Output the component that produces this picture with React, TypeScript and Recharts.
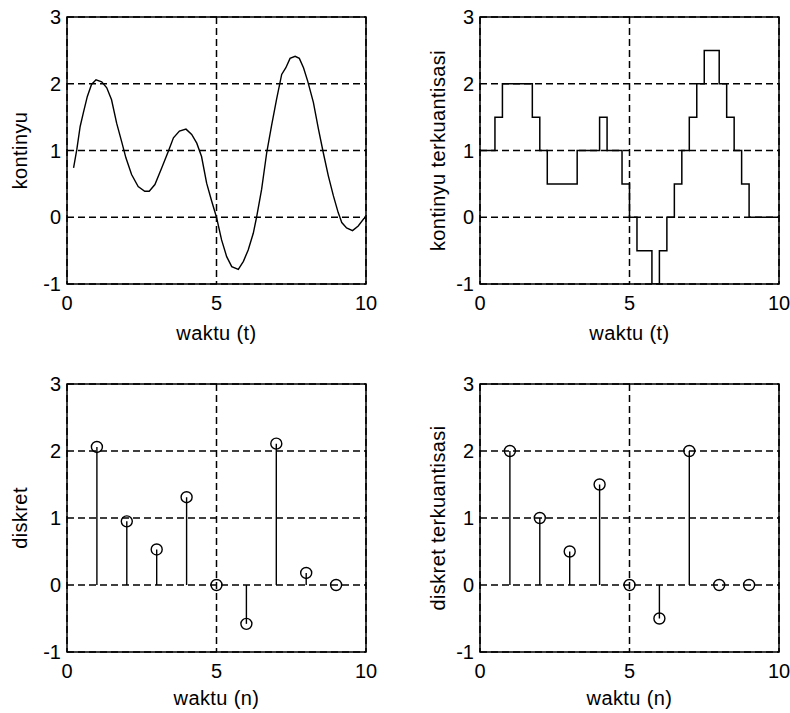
import React from "react";
import {
  ComposedChart,
  Line,
  Scatter,
  ErrorBar,
  XAxis,
  YAxis,
  CartesianGrid,
  ReferenceArea,
} from "recharts";

// continuous signal
const kontinyuT = [
  0.22, 0.33, 0.44, 0.55, 0.68, 0.82, 0.97, 1.16, 1.33, 1.49, 1.66, 1.83, 1.97,
  2.16, 2.38, 2.6, 2.75, 2.94, 3.17, 3.39, 3.56, 3.76, 3.98, 4.17, 4.34, 4.5,
  4.67, 4.84, 5.0, 5.17, 5.34, 5.51, 5.73, 5.9, 6.06, 6.23, 6.34, 6.51, 6.68,
  6.84, 7.01, 7.18, 7.32, 7.46, 7.63, 7.77, 7.91, 8.05, 8.24, 8.41, 8.57, 8.74,
  8.91, 9.07, 9.19, 9.35, 9.55, 9.74, 9.93, 10,
];
const kontinyuY = [
  0.74, 1.02, 1.36, 1.57, 1.81, 1.99, 2.06, 2.03, 1.94, 1.76, 1.41, 1.13, 0.89,
  0.64, 0.46, 0.39, 0.39, 0.49, 0.74, 0.99, 1.19, 1.29, 1.32, 1.24, 1.11, 0.91,
  0.51, 0.24, 0.0, -0.34, -0.59, -0.74, -0.78, -0.66, -0.49, -0.24, 0.0, 0.42,
  0.97, 1.37, 1.77, 2.14, 2.24, 2.38, 2.41, 2.38, 2.24, 2.04, 1.72, 1.32, 0.97,
  0.62, 0.32, 0.07, -0.08, -0.16, -0.2, -0.13, -0.02, 0,
];

// quantized (step 0.5) staircase
const stairT = [
  0, 0.25, 0.5, 0.75, 1, 1.25, 1.5, 1.75, 2, 2.25, 2.5, 2.75, 3, 3.25, 3.5,
  3.75, 4, 4.25, 4.5, 4.75, 5, 5.25, 5.5, 5.75, 6, 6.25, 6.5, 6.75, 7, 7.25,
  7.5, 7.75, 8, 8.25, 8.5, 8.75, 9, 9.25, 9.5, 9.75, 10,
];
const stairY = [
  1, 1, 1.5, 2, 2, 2, 2, 1.5, 1, 0.5, 0.5, 0.5, 0.5, 1, 1, 1, 1.5, 1, 1, 0.5,
  0, -0.5, -0.5, -1, -0.5, 0, 0.5, 1, 1.5, 2, 2.5, 2.5, 2, 1.5, 1, 0.5, 0, 0, 0,
  0, 0,
];

const waktuN = [1, 2, 3, 4, 5, 6, 7, 8, 9];
const diskretY = [2.06, 0.95, 0.53, 1.31, 0, -0.58, 2.11, 0.18, 0];
const diskretQ = [2, 1, 0.5, 1.5, 0, -0.5, 2, 0, 0];

const xTicks = [0, 5, 10];
const yTicks = [-1, 0, 1, 2, 3];

const FONT = '"Liberation Sans", Arial, Helvetica, sans-serif';

// stem from 0 to value, drawn as an asymmetric error bar
const stem = (v: number) => (v >= 0 ? [v, 0] : [0, -v]);

const kontinyuData = kontinyuT.map((t, i) => ({ t, y: kontinyuY[i] }));
const stairData = stairT.map((t, i) => ({ t, y: stairY[i] }));
const diskretData = waktuN.map((t, i) => ({ t, y: diskretY[i], err: stem(diskretY[i]) }));
const diskretQData = waktuN.map((t, i) => ({ t, y: diskretQ[i], err: stem(diskretQ[i]) }));

const tickStyle = { fontSize: 20, fill: "#000", fontFamily: FONT };

const Ring = (p: any) => (
  <circle cx={p.cx} cy={p.cy} r={5.5} fill="none" stroke="#000" strokeWidth={1.4} />
);

function Panel({ left, top, width, height, margin, data, children }: any) {
  return (
    <div style={{ position: "absolute", left, top }}>
      <ComposedChart width={width} height={height} data={data} margin={margin}>
        <CartesianGrid stroke="#000" strokeDasharray="7 4" strokeWidth={1.5} />
        <XAxis
          type="number"
          dataKey="t"
          domain={[0, 10]}
          ticks={xTicks}
          allowDataOverflow
          axisLine={false}
          tickLine={false}
          tickSize={0}
          tickMargin={12}
          height={40}
          tick={tickStyle}
        />
        <YAxis
          type="number"
          domain={[-1, 3]}
          ticks={yTicks}
          allowDataOverflow
          axisLine={false}
          tickLine={false}
          tickSize={0}
          tickMargin={6}
          width={50}
          tick={tickStyle}
        />
        <ReferenceArea x1={0} x2={10} y1={-1} y2={3} fill="none" stroke="#000" strokeWidth={1.5} />
        {children}
      </ComposedChart>
    </div>
  );
}

export default function App() {
  const label = { fontSize: 20, fontFamily: FONT, fill: "#000", letterSpacing: 0.4 };
  return (
    <div
      style={{
        position: "absolute",
        left: 0,
        top: 0,
        width: 790,
        height: 713,
        background: "#fff",
        overflow: "hidden",
      }}
    >
      <Panel left={0} top={0} width={390} height={350} margin={{ top: 17, right: 24, bottom: 26, left: 17 }} data={kontinyuData}>
        <Line type="linear" dataKey="y" stroke="#000" strokeWidth={1.4} dot={false} isAnimationActive={false} />
      </Panel>
      <Panel left={390} top={0} width={400} height={350} margin={{ top: 17, right: 11, bottom: 26, left: 40 }} data={stairData}>
        <Line type="stepAfter" dataKey="y" stroke="#000" strokeWidth={1.5} dot={false} isAnimationActive={false} />
      </Panel>
      <Panel left={0} top={360} width={390} height={353} margin={{ top: 24, right: 24, bottom: 21, left: 17 }} data={diskretData}>
        <Scatter dataKey="y" shape={Ring} isAnimationActive={false}>
          <ErrorBar dataKey="err" direction="y" width={0} stroke="#000" strokeWidth={1.4} isAnimationActive={false} />
        </Scatter>
      </Panel>
      <Panel left={390} top={360} width={400} height={353} margin={{ top: 24, right: 11, bottom: 21, left: 40 }} data={diskretQData}>
        <Scatter dataKey="y" shape={Ring} isAnimationActive={false}>
          <ErrorBar dataKey="err" direction="y" width={0} stroke="#000" strokeWidth={1.4} isAnimationActive={false} />
        </Scatter>
      </Panel>

      <svg width={790} height={713} style={{ position: "absolute", left: 0, top: 0, pointerEvents: "none" }}>
        <text x={216.5} y={340} textAnchor="middle" {...label}>waktu (t)</text>
        <text x={629.5} y={340} textAnchor="middle" {...label}>waktu (t)</text>
        <text x={216.5} y={705} textAnchor="middle" {...label}>waktu (n)</text>
        <text x={629.5} y={705} textAnchor="middle" {...label}>waktu (n)</text>
        <text transform="translate(27,150.5) rotate(-90)" textAnchor="middle" {...label}>kontinyu</text>
        <text transform="translate(445,150.5) rotate(-90)" textAnchor="middle" {...label}>kontinyu terkuantisasi</text>
        <text transform="translate(27,518) rotate(-90)" textAnchor="middle" {...label}>diskret</text>
        <text transform="translate(445,518) rotate(-90)" textAnchor="middle" {...label}>diskret terkuantisasi</text>
      </svg>
    </div>
  );
}
